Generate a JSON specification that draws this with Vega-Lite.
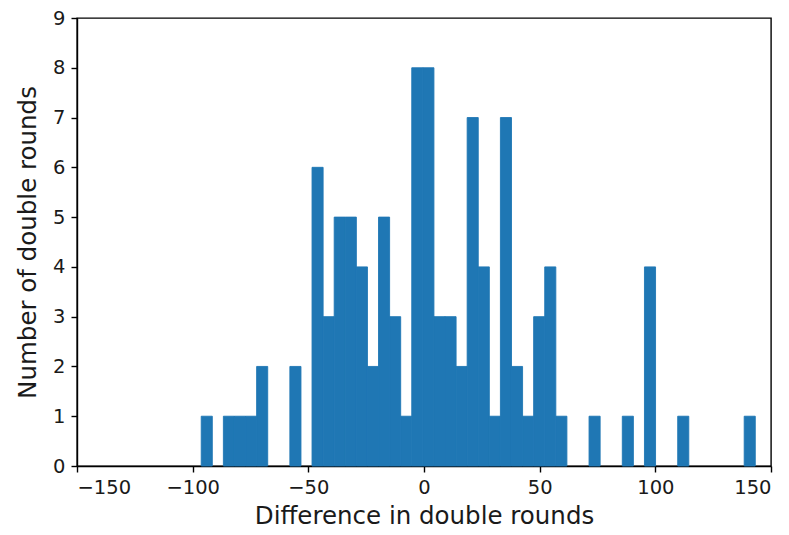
{
  "$schema": "https://vega.github.io/schema/vega-lite/v6.json",
  "width": 694,
  "height": 448,
  "autosize": {"type": "none"},
  "padding": {"left": 77, "top": 18, "right": 18, "bottom": 69},
  "background": "white",
  "config": {
    "view": {"stroke": "black", "strokeWidth": 1.4},
    "font": "DejaVu Sans",
    "axis": {
      "grid": false,
      "domainColor": "black",
      "domainWidth": 1.4,
      "tickColor": "black",
      "tickWidth": 1.4,
      "tickSize": 6,
      "labelFont": "DejaVu Sans",
      "labelFontSize": 19.5,
      "labelColor": "#1a1a1a",
      "titleFont": "DejaVu Sans",
      "titleFontSize": 24.5,
      "titleFontWeight": "normal",
      "titleColor": "#1a1a1a",
      "labelPadding": 6
    }
  },
  "data": {
    "values": [
      {"x0": -96.3, "x1": -91.51, "count": 1},
      {"x0": -86.72, "x1": -81.93, "count": 1},
      {"x0": -81.93, "x1": -77.14, "count": 1},
      {"x0": -77.14, "x1": -72.35, "count": 1},
      {"x0": -72.35, "x1": -67.56, "count": 2},
      {"x0": -57.98, "x1": -53.19, "count": 2},
      {"x0": -48.4, "x1": -43.61, "count": 6},
      {"x0": -43.61, "x1": -38.82, "count": 3},
      {"x0": -38.82, "x1": -34.03, "count": 5},
      {"x0": -34.03, "x1": -29.24, "count": 5},
      {"x0": -29.24, "x1": -24.45, "count": 4},
      {"x0": -24.45, "x1": -19.66, "count": 2},
      {"x0": -19.66, "x1": -14.87, "count": 5},
      {"x0": -14.87, "x1": -10.08, "count": 3},
      {"x0": -10.08, "x1": -5.29, "count": 1},
      {"x0": -5.29, "x1": -0.5, "count": 8},
      {"x0": -0.5, "x1": 4.29, "count": 8},
      {"x0": 4.29, "x1": 9.08, "count": 3},
      {"x0": 9.08, "x1": 13.87, "count": 3},
      {"x0": 13.87, "x1": 18.66, "count": 2},
      {"x0": 18.66, "x1": 23.45, "count": 7},
      {"x0": 23.45, "x1": 28.24, "count": 4},
      {"x0": 28.24, "x1": 33.03, "count": 1},
      {"x0": 33.03, "x1": 37.82, "count": 7},
      {"x0": 37.82, "x1": 42.61, "count": 2},
      {"x0": 42.61, "x1": 47.4, "count": 1},
      {"x0": 47.4, "x1": 52.19, "count": 3},
      {"x0": 52.19, "x1": 56.98, "count": 4},
      {"x0": 56.98, "x1": 61.77, "count": 1},
      {"x0": 71.35, "x1": 76.14, "count": 1},
      {"x0": 85.72, "x1": 90.51, "count": 1},
      {"x0": 95.3, "x1": 100.09, "count": 4},
      {"x0": 109.67, "x1": 114.46, "count": 1},
      {"x0": 138.41, "x1": 143.2, "count": 1}
    ]
  },
  "mark": {"type": "rect", "color": "#1f77b4", "stroke": "#1f77b4", "strokeWidth": 0.9},
  "encoding": {
    "x": {
      "field": "x0",
      "type": "quantitative",
      "scale": {"domain": [-150, 150], "nice": false, "zero": false},
      "axis": {"values": [-150, -100, -50, 0, 50, 100, 150], "title": "Difference in double rounds", "titlePadding": 8}
    },
    "x2": {"field": "x1"},
    "y": {
      "field": "count",
      "type": "quantitative",
      "scale": {"domain": [0, 9], "nice": false},
      "axis": {"values": [0, 1, 2, 3, 4, 5, 6, 7, 8, 9], "title": "Number of double rounds", "titlePadding": 12}
    },
    "y2": {"datum": 0}
  }
}
